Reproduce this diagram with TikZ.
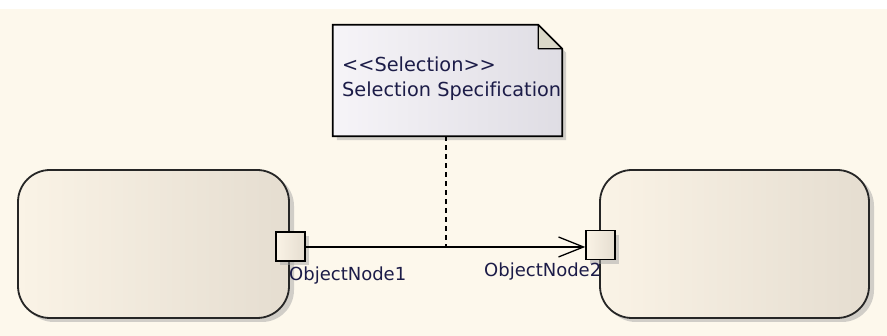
\documentclass[tikz,border=0pt]{standalone}
\usepackage{fontspec}
\setmainfont{DejaVu Sans}[Ligatures=NoCommon]
\usetikzlibrary{arrows.meta,calc}
\definecolor{bgcream}{HTML}{FDF8EC}
\definecolor{boxl}{HTML}{FAF3E6}
\definecolor{boxr}{HTML}{E5DDD0}
\definecolor{notel}{HTML}{F6F4F8}
\definecolor{noter}{HTML}{DFDDE4}
\definecolor{foldc}{HTML}{DAD8C8}
\definecolor{txtc}{HTML}{1C1C48}
\tikzset{
  actbox/.style={rounded corners=32pt, minimum width=271pt, minimum height=148pt, inner sep=0pt, draw=black!85, line width=1.8pt, left color=boxl, right color=boxr},
  portbox/.style={minimum size=29pt, inner sep=0pt, draw=black, line width=1.5pt, left color=boxl, right color=boxr},
  shadowfill/.style={fill=black!35, draw=none},
  lbl/.style={font=\fontsize{18}{20}\selectfont, text=txtc, inner sep=0pt},
  notelbl/.style={font=\fontsize{19.3}{22}\selectfont, text=txtc, inner sep=0pt},
  notebody/.style={minimum width=229pt, minimum height=111pt, inner sep=0pt, draw=none},
}
\begin{document}
\begin{tikzpicture}[x=1pt,y=-1pt]
  \fill[bgcream] (0,0) rectangle (887,336);
  \fill[white] (0,0) rectangle (887,9);
  \useasboundingbox (0,0) rectangle (887,336);

  % activity boxes
  \fill[shadowfill, rounded corners=32pt, opacity=0.5] (22,174) rectangle (294,322);
  \fill[shadowfill, rounded corners=32pt, opacity=0.5] (604,174) rectangle (874,322);
  \node[actbox] (a1) at (153.5,244) {};
  \node[actbox, minimum width=269pt] (a2) at (734.5,244) {};

  % ports
  \fill[shadowfill, opacity=0.5] (280,236) rectangle (309,265);
  \fill[shadowfill, opacity=0.5] (590,235) rectangle (619,264);
  \node[portbox] (p1) at (290.5,246.5) {};
  \node[portbox] (p2) at (600.5,245) {};

  % note
  \node[notebody] (note) at (447.5,80.5) {};
  \fill[shadowfill, opacity=0.5] ($(note.north west)+(4,4)$) -- ($(note.north east)+(-20,4)$) -- ($(note.north east)+(4,28)$) -- ($(note.south east)+(4,4)$) -- ($(note.south west)+(4,4)$) -- cycle;
  \draw[line width=1.8pt, left color=notel, right color=noter] (note.north west) -- ($(note.north east)+(-24,0)$) -- ($(note.north east)+(0,24)$) -- (note.south east) -- (note.south west) -- cycle;
  \draw[line width=1.3pt, fill=foldc, line join=round] ($(note.north east)+(-24,0)$) -- ($(note.north east)+(-24,24)$) -- ($(note.north east)+(0,24)$) -- cycle;
  \node[notelbl, anchor=base west] (st) at (342,72) {{<}{<}Selection{>}{>}};
  \node[notelbl, anchor=base west] (nm) at (342,97) {Selection Specification};

  % flow
  \draw[line width=1.3pt, -{Straight Barb[length=25pt, width=20pt, line width=1.3pt]}] (p1.east |- 0,247) -- (p2.west |- 0,247);
  \coordinate (j) at (446,247);
  \draw[line width=1.5pt, dash pattern=on 5pt off 4pt] (note.south -| j) -- (j);

  % labels
  \node[lbl, anchor=base west] (l1) at (289,281) {ObjectNode1};
  \node[lbl, anchor=base west] (l2) at (484,277) {ObjectNode2};
\end{tikzpicture}
\end{document}
